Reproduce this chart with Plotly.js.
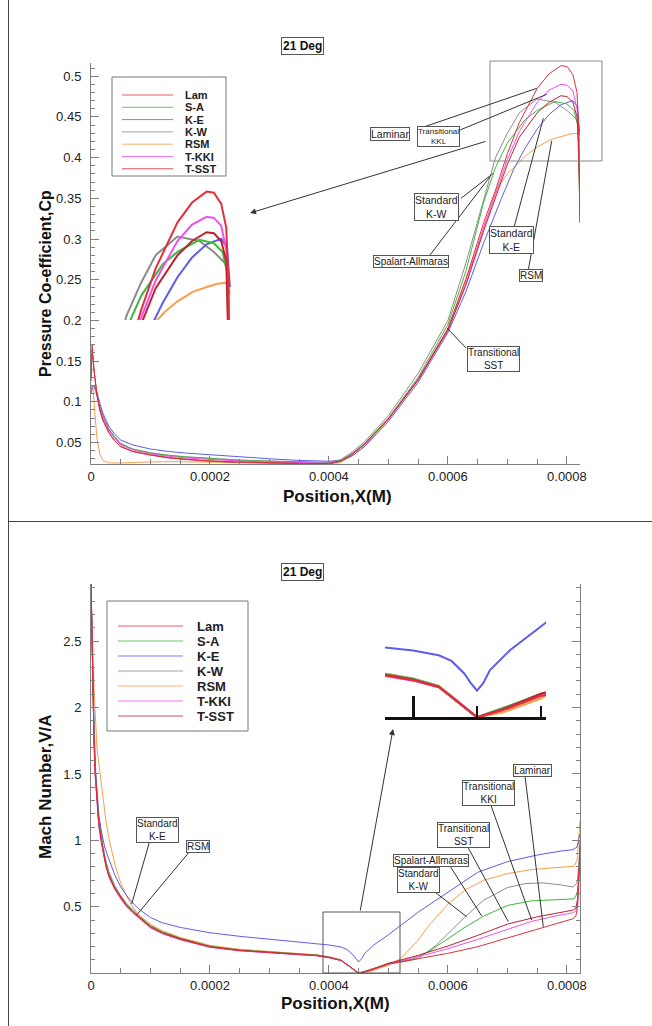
<!DOCTYPE html>
<html>
<head>
<meta charset="utf-8">
<script src="https://cdn.plot.ly/plotly-3.0.1.min.js"></script>
<style>
  html, body { margin: 0; padding: 0; background: #ffffff; }
  #chart { width: 652px; height: 1026px; }
</style>
</head>
<body>
<div id="chart"></div>
<script>
// ---------- series names and colours ----------
const seriesNames = ['Lam', 'S-A', 'K-E', 'K-W', 'RSM', 'T-KKI', 'T-SST'];
const seriesColors = {
  'Lam': '#e2303c', 'S-A': '#3cb83c', 'K-E': '#5c5cf0', 'K-W': '#8c8c8c',
  'RSM': '#f5a04a', 'T-KKI': '#f050f0', 'T-SST': '#c0222c'
};

// ---------- pressure coefficient Cp vs position (m) ----------
const cpX_lam = [0, 0.000002, 0.000005, 0.00001, 0.000015, 0.00002, 0.00003, 0.00004, 0.00005, 0.00007, 0.0001, 0.00013, 0.00016, 0.0002, 0.00025, 0.0003, 0.00035, 0.0004, 0.00042, 0.00044, 0.00046, 0.0005, 0.00055, 0.0006, 0.00063, 0.00066, 0.00068, 0.0007, 0.00072, 0.00075, 0.00077, 0.00079, 0.0008, 0.00081, 0.000817, 0.00082, 0.000822];
const cpY_lam = [0.13, 0.17, 0.14, 0.11, 0.09, 0.078, 0.062, 0.052, 0.045, 0.039, 0.0345, 0.031, 0.029, 0.027, 0.0255, 0.0247, 0.0242, 0.0238, 0.027, 0.036, 0.048, 0.079, 0.128, 0.19, 0.25, 0.32, 0.36, 0.405, 0.443, 0.485, 0.503, 0.513, 0.512, 0.502, 0.48, 0.43, 0.32];

const cpX_sst = [0, 0.000002, 0.000005, 0.00001, 0.000015, 0.00002, 0.00003, 0.00004, 0.00005, 0.00007, 0.0001, 0.00013, 0.00016, 0.0002, 0.00025, 0.0003, 0.00035, 0.0004, 0.00042, 0.00044, 0.00046, 0.0005, 0.00055, 0.0006, 0.00063, 0.00066, 0.00068, 0.0007, 0.00072, 0.00075, 0.00077, 0.00079, 0.0008, 0.00081, 0.000817, 0.00082, 0.000822];
const cpY_sst = [0.125, 0.165, 0.138, 0.108, 0.089, 0.077, 0.062, 0.052, 0.045, 0.039, 0.0348, 0.0315, 0.0295, 0.0275, 0.026, 0.025, 0.0244, 0.024, 0.027, 0.036, 0.048, 0.079, 0.127, 0.188, 0.243, 0.31, 0.35, 0.392, 0.425, 0.455, 0.468, 0.476, 0.475, 0.468, 0.45, 0.41, 0.32];

const cpX_kki = [0, 0.000002, 0.000005, 0.00001, 0.000015, 0.00002, 0.00003, 0.00004, 0.00005, 0.00007, 0.0001, 0.00013, 0.00016, 0.0002, 0.00025, 0.0003, 0.00035, 0.0004, 0.00042, 0.00044, 0.00046, 0.0005, 0.00055, 0.0006, 0.00063, 0.00066, 0.00068, 0.0007, 0.00072, 0.00075, 0.00077, 0.00079, 0.0008, 0.00081, 0.000817, 0.00082, 0.000822];
const cpY_kki = [0.112, 0.12, 0.119, 0.108, 0.093, 0.081, 0.065, 0.055, 0.047, 0.041, 0.036, 0.033, 0.031, 0.029, 0.0272, 0.0262, 0.0253, 0.0247, 0.027, 0.036, 0.048, 0.079, 0.127, 0.188, 0.245, 0.315, 0.355, 0.398, 0.432, 0.468, 0.483, 0.49, 0.489, 0.482, 0.46, 0.42, 0.33];

const cpX_sa = [0, 0.000002, 0.000005, 0.00001, 0.000015, 0.00002, 0.00003, 0.00004, 0.00005, 0.00007, 0.0001, 0.00013, 0.00016, 0.0002, 0.00025, 0.0003, 0.00035, 0.0004, 0.00042, 0.00044, 0.00046, 0.0005, 0.00055, 0.0006, 0.00063, 0.00066, 0.00068, 0.0007, 0.00073, 0.00075, 0.00078, 0.0008, 0.000812, 0.000818, 0.000822];
const cpY_sa = [0.11, 0.119, 0.12, 0.109, 0.094, 0.082, 0.066, 0.056, 0.048, 0.042, 0.037, 0.034, 0.032, 0.030, 0.028, 0.027, 0.026, 0.025, 0.028, 0.037, 0.049, 0.08, 0.13, 0.195, 0.26, 0.345, 0.388, 0.418, 0.447, 0.458, 0.469, 0.466, 0.458, 0.44, 0.33];

const cpX_kw = [0, 0.000002, 0.000005, 0.00001, 0.000015, 0.00002, 0.00003, 0.00004, 0.00005, 0.00007, 0.0001, 0.00013, 0.00016, 0.0002, 0.00025, 0.0003, 0.00035, 0.0004, 0.00042, 0.00044, 0.00046, 0.0005, 0.00055, 0.0006, 0.00063, 0.00066, 0.00068, 0.0007, 0.00072, 0.00075, 0.00078, 0.0008, 0.000815, 0.00082];
const cpY_kw = [0.11, 0.118, 0.12, 0.11, 0.095, 0.083, 0.067, 0.057, 0.049, 0.042, 0.0375, 0.0345, 0.0325, 0.0305, 0.0285, 0.0273, 0.0263, 0.0255, 0.029, 0.039, 0.051, 0.083, 0.135, 0.2, 0.27, 0.35, 0.40, 0.43, 0.455, 0.472, 0.468, 0.458, 0.448, 0.44];

const cpX_ke = [0, 0.000002, 0.000005, 0.00001, 0.000015, 0.00002, 0.00003, 0.00004, 0.00005, 0.00007, 0.0001, 0.00013, 0.00016, 0.0002, 0.00025, 0.0003, 0.00035, 0.0004, 0.00042, 0.00044, 0.00046, 0.0005, 0.00055, 0.0006, 0.00063, 0.00066, 0.00069, 0.00071, 0.00073, 0.00075, 0.00077, 0.00079, 0.00081, 0.000818, 0.000822];
const cpY_ke = [0.11, 0.118, 0.12, 0.112, 0.098, 0.086, 0.07, 0.06, 0.053, 0.047, 0.042, 0.039, 0.037, 0.035, 0.032, 0.030, 0.028, 0.027, 0.028, 0.034, 0.045, 0.076, 0.124, 0.185, 0.235, 0.295, 0.35, 0.385, 0.412, 0.435, 0.453, 0.465, 0.47, 0.462, 0.426];

const cpX_rsm = [0, 0.000003, 0.000006, 0.00001, 0.000015, 0.00002, 0.00003, 0.00005, 0.00008, 0.0001, 0.00013, 0.00017, 0.0002, 0.00025, 0.0003, 0.00035, 0.0004, 0.00042, 0.00044, 0.00046, 0.0005, 0.00055, 0.0006, 0.000626, 0.00065, 0.000682, 0.0007, 0.000732, 0.00075, 0.000771, 0.00079, 0.000805, 0.000818, 0.000822];
const cpY_rsm = [0.11, 0.12, 0.09, 0.055, 0.035, 0.028, 0.025, 0.0248, 0.0257, 0.0263, 0.0265, 0.0262, 0.0256, 0.025, 0.0245, 0.0241, 0.0238, 0.026, 0.034, 0.046, 0.078, 0.127, 0.19, 0.243, 0.29, 0.362, 0.38, 0.403, 0.413, 0.4216, 0.426, 0.429, 0.43, 0.42];

// ---------- Mach number vs position (m) ----------
const maX_lam = [0, 0.000001, 0.000003, 0.000005, 0.000007, 0.00001, 0.000013, 0.000017, 0.00002, 0.000025, 0.00003, 0.00004, 0.00005, 0.00006, 0.00007, 0.00008, 0.0001, 0.00012, 0.00015, 0.0002, 0.00025, 0.0003, 0.00035, 0.00038, 0.0004, 0.00042, 0.000435, 0.00045, 0.00047, 0.0005, 0.00055, 0.0006, 0.00065, 0.0007, 0.00076, 0.0008, 0.00081, 0.000815, 0.000818, 0.00082, 0.000822];
const maY_lam = [2.93, 2.65, 2.1, 1.75, 1.5, 1.27, 1.12, 1.0, 0.92, 0.81, 0.73, 0.635, 0.565, 0.505, 0.46, 0.42, 0.345, 0.3, 0.255, 0.197, 0.17, 0.155, 0.143, 0.132, 0.118, 0.097, 0.05, 0.0, 0.022, 0.068, 0.11, 0.15, 0.2, 0.265, 0.345, 0.395, 0.41, 0.43, 0.5, 0.7, 0.95];

const maX_sst = [0, 0.000001, 0.000003, 0.000005, 0.000007, 0.00001, 0.000013, 0.000017, 0.00002, 0.000025, 0.00003, 0.00004, 0.00005, 0.00006, 0.00007, 0.00008, 0.0001, 0.00012, 0.00015, 0.0002, 0.00025, 0.0003, 0.00035, 0.00038, 0.0004, 0.00042, 0.000435, 0.00045, 0.00047, 0.0005, 0.00055, 0.0006, 0.00065, 0.0007, 0.00075, 0.00078, 0.0008, 0.00081, 0.000815, 0.000818, 0.00082, 0.000822];
const maY_sst = [2.93, 2.66, 2.12, 1.77, 1.52, 1.29, 1.14, 1.02, 0.93, 0.82, 0.74, 0.64, 0.57, 0.51, 0.465, 0.425, 0.35, 0.305, 0.26, 0.2, 0.173, 0.158, 0.146, 0.134, 0.12, 0.098, 0.05, 0.0, 0.025, 0.075, 0.135, 0.205, 0.285, 0.37, 0.425, 0.452, 0.468, 0.475, 0.49, 0.56, 0.75, 1.0];

const maX_kki = [0, 0.000001, 0.000003, 0.000005, 0.000007, 0.00001, 0.000013, 0.000017, 0.00002, 0.000025, 0.00003, 0.00004, 0.00005, 0.00006, 0.00007, 0.00008, 0.0001, 0.00012, 0.00015, 0.0002, 0.00025, 0.0003, 0.00035, 0.00038, 0.0004, 0.00042, 0.000435, 0.00045, 0.00047, 0.0005, 0.00055, 0.0006, 0.00065, 0.0007, 0.00074, 0.00078, 0.0008, 0.00081, 0.000815, 0.000818, 0.00082, 0.000822];
const maY_kki = [2.93, 2.64, 2.09, 1.74, 1.49, 1.26, 1.11, 0.99, 0.915, 0.805, 0.725, 0.63, 0.56, 0.5, 0.455, 0.415, 0.342, 0.298, 0.252, 0.195, 0.169, 0.154, 0.142, 0.131, 0.117, 0.096, 0.05, 0.0, 0.024, 0.072, 0.125, 0.185, 0.255, 0.33, 0.39, 0.43, 0.445, 0.455, 0.47, 0.53, 0.7, 0.9];

const maX_sa = [0, 0.000001, 0.000003, 0.000005, 0.000007, 0.00001, 0.000013, 0.000017, 0.00002, 0.000025, 0.00003, 0.00004, 0.00005, 0.00006, 0.00007, 0.00008, 0.0001, 0.00012, 0.00015, 0.0002, 0.00025, 0.0003, 0.00035, 0.00038, 0.0004, 0.00042, 0.000435, 0.00045, 0.00047, 0.0005, 0.00054, 0.00057, 0.0006, 0.00063, 0.00066, 0.0007, 0.00074, 0.00078, 0.0008, 0.000812, 0.000817, 0.00082, 0.000822];
const maY_sa = [2.93, 2.67, 2.14, 1.79, 1.54, 1.3, 1.15, 1.03, 0.94, 0.83, 0.75, 0.65, 0.575, 0.515, 0.47, 0.43, 0.355, 0.31, 0.262, 0.203, 0.175, 0.16, 0.148, 0.136, 0.122, 0.099, 0.051, 0.0, 0.028, 0.075, 0.105, 0.17, 0.26, 0.35, 0.43, 0.51, 0.545, 0.555, 0.555, 0.56, 0.6, 0.7, 0.85];

const maX_kw = [0, 0.000001, 0.000003, 0.000005, 0.000007, 0.00001, 0.000013, 0.000017, 0.00002, 0.000025, 0.00003, 0.00004, 0.00005, 0.00006, 0.00007, 0.00008, 0.0001, 0.00012, 0.00015, 0.0002, 0.00025, 0.0003, 0.00035, 0.00038, 0.0004, 0.00042, 0.000435, 0.00045, 0.00047, 0.0005, 0.00053, 0.00055, 0.00058, 0.0006, 0.00063, 0.00066, 0.0007, 0.00073, 0.00076, 0.00079, 0.00081, 0.000817, 0.00082, 0.000822];
const maY_kw = [2.93, 2.68, 2.16, 1.81, 1.56, 1.32, 1.17, 1.05, 0.96, 0.85, 0.765, 0.66, 0.585, 0.525, 0.478, 0.437, 0.36, 0.314, 0.266, 0.206, 0.178, 0.162, 0.15, 0.138, 0.124, 0.1, 0.052, 0.0, 0.03, 0.07, 0.09, 0.11, 0.21, 0.3, 0.43, 0.55, 0.645, 0.675, 0.68, 0.665, 0.65, 0.68, 0.8, 0.95];

const maX_ke = [0, 0.000001, 0.000003, 0.000005, 0.000008, 0.00001, 0.000013, 0.000017, 0.00002, 0.000023, 0.00003, 0.00004, 0.00005, 0.00006, 0.00007, 0.00008, 0.0001, 0.00012, 0.00015, 0.0002, 0.00025, 0.0003, 0.00035, 0.0004, 0.00042, 0.00043, 0.00044, 0.000445, 0.00045, 0.000455, 0.00046, 0.000476, 0.0005, 0.00055, 0.0006, 0.00065, 0.0007, 0.00075, 0.00079, 0.00081, 0.000817, 0.00082, 0.000822];
const maY_ke = [2.93, 2.7, 2.25, 1.9, 1.5, 1.35, 1.2, 1.08, 1.0, 0.95, 0.86, 0.74, 0.65, 0.585, 0.53, 0.485, 0.42, 0.38, 0.345, 0.305, 0.278, 0.257, 0.235, 0.213, 0.198, 0.18, 0.14, 0.11, 0.085, 0.11, 0.15, 0.215, 0.29, 0.46, 0.61, 0.76, 0.84, 0.89, 0.92, 0.93, 0.95, 1.0, 1.05];

const maX_rsm = [0, 0.000002, 0.000005, 0.00001, 0.000015, 0.00002, 0.000025, 0.00003, 0.00004, 0.00005, 0.00006, 0.00007, 0.00008, 0.0001, 0.00012, 0.00015, 0.0002, 0.00025, 0.0003, 0.00035, 0.00038, 0.0004, 0.00042, 0.000435, 0.00045, 0.00047, 0.0005, 0.00052, 0.00055, 0.00057, 0.0006, 0.00063, 0.00066, 0.0007, 0.00074, 0.00078, 0.0008, 0.000812, 0.000817, 0.00082, 0.000822];
const maY_rsm = [2.93, 2.6, 2.15, 1.7, 1.5, 1.3, 1.15, 1.02, 0.82, 0.68, 0.58, 0.5, 0.44, 0.37, 0.32, 0.27, 0.21, 0.18, 0.165, 0.15, 0.138, 0.122, 0.1, 0.05, 0.0, 0.015, 0.06, 0.11, 0.25, 0.37, 0.52, 0.63, 0.7, 0.75, 0.78, 0.795, 0.8, 0.805, 0.85, 1.0, 1.15];

// series bundles in drawing order (later = on top)
const cpSeries = [
  ['K-W', cpX_kw, cpY_kw], ['RSM', cpX_rsm, cpY_rsm], ['K-E', cpX_ke, cpY_ke],
  ['S-A', cpX_sa, cpY_sa], ['T-KKI', cpX_kki, cpY_kki], ['T-SST', cpX_sst, cpY_sst], ['Lam', cpX_lam, cpY_lam]
];
const maSeries = [
  ['K-W', maX_kw, maY_kw], ['RSM', maX_rsm, maY_rsm], ['K-E', maX_ke, maY_ke],
  ['S-A', maX_sa, maY_sa], ['T-KKI', maX_kki, maY_kki], ['T-SST', maX_sst, maY_sst], ['Lam', maX_lam, maY_lam]
];

// ---------- page geometry helpers (pixel -> paper fraction) ----------
const W = 652, H = 1026;
const fx = p => p / W;
const fy = p => 1 - p / H;

const traces = [];
function addSet(series, xa, ya, width) {
  series.forEach(([name, xs, ys]) => {
    traces.push({
      type: 'scatter', mode: 'lines', x: xs, y: ys, name: name,
      xaxis: xa, yaxis: ya, showlegend: false, hoverinfo: 'skip',
      line: { color: seriesColors[name], width: width }
    });
  });
}
addSet(cpSeries, 'x', 'y', 1);
addSet(cpSeries, 'x3', 'y3', 2);
addSet(maSeries, 'x2', 'y2', 1);
addSet(maSeries, 'x4', 'y4', 2);

const FONT = 'Liberation Sans, Arial, Helvetica, sans-serif';
const AX = '#808080';

function mainAxis(extra) {
  return Object.assign({
    showline: true, linecolor: AX, linewidth: 1, mirror: false,
    ticks: 'inside', ticklen: 8, tickwidth: 1, tickcolor: AX,
    showgrid: false, zeroline: false, fixedrange: true,
    tickfont: { family: FONT, size: 13, color: '#222' },
    exponentformat: 'none', showexponent: 'none', ticklabelstandoff: 0
  }, extra);
}

const layout = {
  width: W, height: H,
  margin: { l: 0, r: 0, t: 0, b: 0 },
  paper_bgcolor: '#ffffff', plot_bgcolor: 'rgba(0,0,0,0)',
  showlegend: false,
  font: { family: FONT, color: '#222', size: 13 },
  xaxis: mainAxis({ domain: [fx(91), fx(580)], range: [0, 0.000822], anchor: 'y', tick0: 0, dtick: 0.0002,
    minor: { ticks: 'inside', dtick: 0.00005, ticklen: 5, tickcolor: AX } }),
  yaxis: mainAxis({ domain: [fy(464), fy(63.2)], range: [0.0236, 0.516], anchor: 'x', tick0: 0, dtick: 0.05,
    minor: { ticks: 'inside', dtick: 0.01, ticklen: 4, tickcolor: AX }, ticklabelstandoff: 6 }),
  xaxis2: mainAxis({ domain: [fx(91), fx(580)], range: [0, 0.000822], anchor: 'y2', tick0: 0, dtick: 0.0002,
    minor: { ticks: 'inside', dtick: 0.00005, ticklen: 5, tickcolor: AX } }),
  yaxis2: mainAxis({ domain: [fy(973), fy(584)], range: [0.002, 2.93], anchor: 'x2', tick0: 0, dtick: 0.5, mirror: 'ticks',
    minor: { ticks: 'inside', dtick: 0.1, ticklen: 4, tickcolor: AX }, ticklabelstandoff: 6 }),
  xaxis3: { domain: [fx(120), fx(235)], range: [0.000671, 0.000829], anchor: 'y3', visible: false, fixedrange: true },
  yaxis3: { domain: [fy(320), fy(185)], range: [0.396, 0.519], anchor: 'x3', visible: false, fixedrange: true },
  xaxis4: { domain: [fx(385), fx(546)], range: [0.000378, 0.000504], anchor: 'y4', fixedrange: true,
    showline: true, linecolor: '#111', linewidth: 3, showgrid: false, zeroline: false, showticklabels: false,
    ticks: 'inside', ticklen: 21, tickwidth: 3, tickcolor: '#111', tick0: 0, dtick: 0.0002,
    minor: { ticks: 'inside', dtick: 0.00005, ticklen: 11, tickwidth: 2, tickcolor: '#111' } },
  yaxis4: { domain: [fy(717.3), fy(618)], range: [0, 0.317], anchor: 'x4', visible: false, fixedrange: true },
  shapes: [],
  annotations: []
};

const S = layout.shapes, A = layout.annotations;
function line(x0, y0, x1, y1, color, width) {
  S.push({ type: 'line', xref: 'paper', yref: 'paper', x0: fx(x0), y0: fy(y0), x1: fx(x1), y1: fy(y1),
    line: { color: color || '#333', width: width || 1 } });
}
function rect(x0, y0, x1, y1, color) {
  S.push({ type: 'rect', xref: 'paper', yref: 'paper', x0: fx(x0), y0: fy(y0), x1: fx(x1), y1: fy(y1),
    line: { color: color || '#666', width: 1 }, fillcolor: 'rgba(0,0,0,0)' });
}
function text(cx, cy, t, opts) {
  A.push(Object.assign({ xref: 'paper', yref: 'paper', x: fx(cx), y: fy(cy), text: t, showarrow: false,
    xanchor: 'center', yanchor: 'middle', font: { family: FONT, size: 10, color: '#222' } }, opts || {}));
}
function boxed(cx, cy, t, size) {
  text(cx, cy, t, { font: { family: FONT, size: size || 10, color: '#222' }, bordercolor: '#555', borderwidth: 1,
    borderpad: 0, bgcolor: '#ffffff' });
}
function arrow(tipX, tipY, tailX, tailY) {
  A.push({ xref: 'paper', yref: 'paper', x: fx(tipX), y: fy(tipY), ax: tailX - tipX, ay: tailY - tipY,
    text: '', showarrow: true, arrowhead: 2, arrowsize: 1.2, arrowwidth: 1, arrowcolor: '#333' });
}
function legend(x0, y0, x1, y1, lx0, lx1, tx, ty0, step, size) {
  rect(x0, y0, x1, y1, '#777');
  seriesNames.forEach((n, i) => {
    const yy = ty0 + i * step;
    line(lx0, yy, lx1, yy, seriesColors[n], 0.8);
    text(tx, yy, '<b>' + n + '</b>', { xanchor: 'left', font: { family: FONT, size: size, color: '#222' } });
  });
}

// frame of the figure
line(8.5, 0, 8.5, 1026, '#444', 1);
line(8, 521.5, 652, 521.5, '#444', 1);

// ----- upper panel: Cp -----
text(302.5, 46, '<b>21 Deg</b>', { font: { family: FONT, size: 12, color: '#111' }, bordercolor: '#555', borderwidth: 1, borderpad: 1 });
text(337, 496, '<b>Position,X(M)</b>', { font: { family: FONT, size: 17, color: '#111' } });
text(45, 284, '<b>Pressure Co-efficient,Cp</b>', { textangle: -90, font: { family: FONT, size: 16, color: '#111' } });
legend(112, 77, 226, 176, 122, 173, 183, 95, 12.3, 11);
rect(490, 61, 602, 161, '#888');
arrow(250, 213, 487, 141);

line(421.7, 127.7, 536.7, 88.3);
line(460, 130, 546.7, 94.3);
line(461, 198.3, 493.3, 173.3);
line(430, 255, 490, 176.7);
line(513.3, 230, 543.3, 118.3);
line(528.3, 270, 551.7, 141);
line(466, 348, 447, 328);
boxed(390, 134, 'Laminar', 10.5);
boxed(438.7, 136, 'Transitional<br>KKL', 8);
boxed(436, 207.5, 'Standard<br>K-W', 10.5);
boxed(411, 261, 'Spalart-Allmaras', 10);
boxed(511, 240, 'Standard<br>K-E', 10.5);
boxed(531, 275, 'RSM', 10);
boxed(493, 359, 'Transitional<br>SST', 10);

// ----- lower panel: Mach number -----
text(302.5, 572, '<b>21 Deg</b>', { font: { family: FONT, size: 12, color: '#111' }, bordercolor: '#555', borderwidth: 1, borderpad: 1 });
text(335, 1003, '<b>Position,X(M)</b>', { font: { family: FONT, size: 17, color: '#111' } });
text(45, 787, '<b>Mach Number,V/A</b>', { textangle: -90, font: { family: FONT, size: 17, color: '#111' } });
legend(107, 601, 248, 731, 118, 183, 195, 626, 15, 13);
rect(323, 912, 400, 973, '#555');
arrow(393, 729, 360, 912);

line(150, 840, 131.7, 904);
line(190, 851, 136.7, 915);
line(525, 776, 543.3, 926.7);
line(490, 802.7, 531.7, 920);
line(466.7, 845, 508.3, 921.7);
line(450, 866, 481.7, 916);
line(430, 888.3, 466.7, 916.7);
boxed(157, 830, 'Standard<br>K-E', 10);
boxed(198, 846, 'RSM', 10);
boxed(532.5, 770.5, 'Laminar', 10);
boxed(488.7, 793, 'Transitional<br>KKI', 10);
boxed(463.3, 835, 'Transitional<br>SST', 10);
boxed(430.8, 860.5, 'Spalart-Allmaras', 10);
boxed(418.3, 879.5, 'Standard<br>K-W', 10);

Plotly.newPlot('chart', traces, layout, { staticPlot: true, displayModeBar: false });
</script>
</body>
</html>
